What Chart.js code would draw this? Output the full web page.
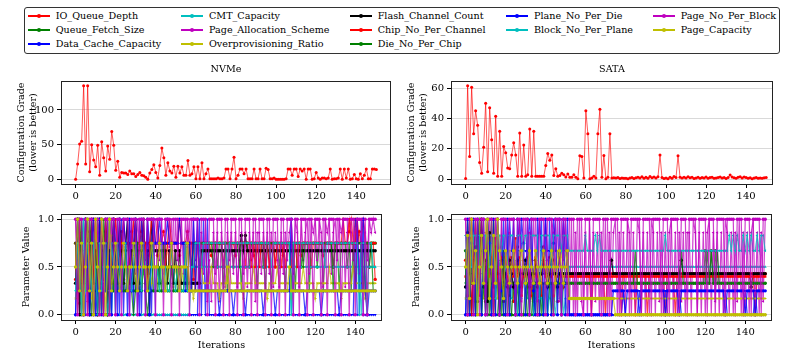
<!DOCTYPE html>
<html><head><meta charset="utf-8">
<script src="https://cdn.jsdelivr.net/npm/chart.js@4.4.1/dist/chart.umd.min.js"></script>
<style>
html,body{margin:0;padding:0;background:#fff;overflow:hidden;width:789px;height:359px;}
canvas{position:absolute;}
#legend{position:absolute;left:24px;top:7px;width:754px;height:45px;border:1px solid #333;border-radius:3px;background:#fff;}
.lh{position:absolute;height:1.5px;}
.lm{position:absolute;width:4px;height:4px;border-radius:50%;}
.lt{position:absolute;font-family:"DejaVu Serif",serif;font-size:9.6px;color:#000;white-space:nowrap;line-height:12px;}
</style></head>
<body>
<div id="legend"></div>
<canvas id="c1" width="396" height="150" style="left:0;top:58px"></canvas>
<canvas id="c2" width="393" height="150" style="left:396px;top:58px"></canvas>
<canvas id="c3" width="396" height="154" style="left:0;top:205px"></canvas>
<canvas id="c4" width="393" height="154" style="left:396px;top:205px"></canvas>
<script>
// ---------- categories ----------
const iterations = Array.from({length:151},(_,i)=>i);
const paramNames = ["IO_Queue_Depth","Queue_Fetch_Size","Data_Cache_Capacity","CMT_Capacity","Page_Allocation_Scheme","Overprovisioning_Ratio","Flash_Channel_Count","Chip_No_Per_Channel","Die_No_Per_Chip","Plane_No_Per_Die","Block_No_Per_Plane","Page_No_Per_Block","Page_Capacity"];
const xTicks = [0,20,40,60,80,100,120,140];
const nvmeGradeTicks = [0,50,100];
const sataGradeTicks = [0,20,40,60];
const paramTicks = [0,0.5,1];

// ---------- configuration grade ----------
const nvmeGrade = [0,22,51,55,135,22,135,11,50,28,
18,49,6,54,31,12,48,29,69,49,
13,26,3,10,9,9,7,12,8,8,
4,7,10,6,5,3,0,9,14,21,
10,2,20,45,31,6,24,12,9,19,
3,19,9,18,6,6,27,6,8,18,
1,18,1,24,1,8,15,1,1,1,
1,2,1,1,2,15,15,1,15,32,
1,6,15,15,8,15,1,1,1,15,
1,1,15,1,1,16,14,1,1,2,
0,0,0,0,0,1,15,15,6,15,
15,4,15,12,15,0,15,15,0,1,
10,2,0,2,2,1,2,15,0,1,
1,2,15,0,15,2,15,0,1,7,
1,0,8,1,6,15,1,1,15,15,14];

const sataGrade = [0.5,61.5,15,60.5,30,45,35.5,11,4,21,
50,5,47,26,4,41.5,2,31.5,2,21.5,
17.5,7.5,7,16,24,16,2,30.5,2,22.5,
2,3,33,2,31.5,2,2,2,2,2,
9,17,12.5,16,2.5,7,2,2.5,4,3,
1.5,3.5,1.3,1.3,3,1.3,0.4,15.4,15,0.9,
45,30,0.4,0.9,2,0.9,30,46,1.3,15.6,
0.4,1.3,30,0.9,1,0.9,1.1,0.5,0.9,0.6,
0.7,0.4,0.8,1.2,0.5,1,1.4,0.8,1.6,0.7,
1.3,0.6,1.8,1,1.5,0.8,1.7,16,1.2,0.5,
0.9,0.3,1.4,0.6,1.8,1.2,15.5,1.3,0.8,1.4,
0.9,1.6,1,1.3,0.5,0.9,1.4,0.6,1.2,0.8,
1.5,0.7,1.1,1.3,0.6,0.9,1.2,1.5,0.8,1.1,
0.5,1.2,2.8,1.5,1,0.6,1.3,1.6,0.8,1.5,
1.2,0.6,1,0.4,0.8,1.1,0.6,0.9,0.7,1,1.1];

// ---------- NVMe parameter values ----------
const nvIOQ = [.37,1,.12,.75,0,1,.5,.87,.25,1,
.75,0,.62,1,.37,.87,0,.75,.5,1,
.25,.75,.62,.87,.37,.75,.75,.5,.87,.75,
.62,.75,.75,.87,.5,.75,.75,.62,.75,.75,
.75,.62,.75,.75,.87,.75,.75,.5,.75,.75,
.75,.75,.62,.75,.75,.75,.87,.75,.75,.37,
.75,.75,.75,.5,.75,.75,.75,.75,.62,.75,
.75,.75,.75,.75,.5,.75,.75,.75,.75,.75,
.62,.75,.75,.75,.75,.5,.75,.75,.75,.62,
.75,.75,.75,.75,.75,.5,.75,.75,.75,.75,
.5,.75,.75,.75,.62,.75,.75,.75,.75,.5,
.75,.75,.75,.62,.75,.75,.75,.75,.5,.75,
.75,.75,.75,.75,.62,.75,.75,.75,.75,.5,
.75,.75,.75,.75,1,.75,.75,.87,1,.75,
1,.75,.87,.75,1,.75,.75,.5,.75,.75,.37];
const nvQFS = [.75,.25,1,0,.5,.75,1,.25,0,.75,
.5,1,.25,.75,0,.5,.25,1,.75,.25,
.5,.25,.75,.5,.25,.25,.5,.25,.75,.25,
.25,.5,.25,.25,.75,.25,.5,.25,.25,.25,
.25,.5,.25,.25,.25,.75,.25,.25,.5,.25,
.25,.25,.5,.25,.25,.75,.25,.25,.25,.75,
.75,.75,.5,.75,.75,.75,.25,.75,.75,.75,
.75,.5,.75,.75,.75,.75,.25,.75,.75,.5,
.75,.75,.75,.25,.75,.75,.75,.5,.75,.75,
.75,.25,.75,.75,.5,.75,.75,.75,.25,.75,
.75,.75,.5,.75,.75,.25,.75,.75,.75,.75,
.25,.75,.75,.5,.75,.75,.75,.25,.75,.75,
.75,.5,.75,.75,.25,.75,.75,.75,.75,.5,
.75,.75,.25,.75,.75,.75,.5,.75,.25,.75,
.75,.75,.25,.75,.75,.25,.75,.5,.75,.75,.75];
const nvDCC = [0,1,0,1,.5,0,1,0,1,0,
1,0,1,.75,0,1,0,1,0,1,
0,1,0,1,0,.75,1,0,1,0,
1,0,1,0,1,0,1,.75,0,1,
0,0,0,0,0,0,0,0,0,0,
0,0,0,0,0,0,0,0,0,0,
0,0,1,0,1,0,1,0,0,0,
0,0,0,0,0,0,0,0,0,0,
0,0,0,0,0,0,0,0,0,0,
0,0,0,0,0,0,0,0,0,0,
0,0,0,0,0,0,0,0,1,0,
0,0,0,0,0,0,0,0,0,0,
0,0,0,0,0,0,0,0,0,0,
0,0,0,0,0,0,0,0,0,0,
1,0,0,1,0,0,0,0,0,0,0];
const nvCMT = [.5,.5,0,.75,1,.25,.5,0,1,.75,
.25,.5,1,0,.75,.5,.25,1,0,.5,
0,0,0,0,0,0,0,0,0,0,
0,0,0,0,0,0,0,0,0,0,
0,0,0,0,0,0,0,0,0,0,
0,0,0,0,0,0,0,0,.5,.5,
.5,.5,.5,.5,.5,.5,.5,.5,.5,.5,
.5,.5,.5,.5,.5,.5,.5,.5,.5,.5,
.5,.5,.5,.5,.5,.5,.5,.5,.5,.5,
.5,.5,.5,.5,.5,.5,.5,.5,.5,.5,
.5,.5,.5,.5,.5,.5,.5,.5,0,.5,
.5,.5,.5,.5,.5,.5,.5,.5,.5,.5,
.5,.5,.5,.5,.5,.5,.5,.5,.5,.5,
.5,.5,.5,.5,.5,.5,.5,.5,.5,.5,
.5,.5,.5,0,.5,.5,.5,.5,.5,.5,.5];
const nvPAS = [1,.57,0,.86,.29,1,.14,.71,1,.43,
0,.86,1,.29,.57,1,0,.71,1,.43,
1,.57,1,.29,1,.71,.43,1,.57,1,
.43,1,.71,.29,1,.57,1,.43,1,.71,
1,1,.57,1,.43,1,1,.71,1,.29,
1,.57,1,1,.43,1,.71,1,.29,1,
.57,1,.29,.86,.43,1,.14,.57,.14,.86,
.43,.86,.14,.86,.57,.29,.86,.57,.86,.43,
.86,.29,.57,.86,.43,.86,.29,.86,.57,.86,
.14,.86,.86,.43,.86,.57,.86,.43,.86,.29,
.86,.57,.29,.86,.43,.86,.57,.86,1,.43,
1,.86,.29,1,.57,.86,1,.43,1,.86,
1,.57,1,.86,.29,1,.86,1,.43,.86,
1,.57,1,.86,1,.29,.86,1,.86,.57,
.86,1,.43,.86,1,.86,.57,1,.86,1,.86];
const nvOPR = [.17,.67,1,0,.5,.83,.33,1,.17,.67,
1,.33,.83,0,.67,.5,1,.17,.83,.33,
.5,.33,.5,.33,.5,.5,.33,.5,.33,.5,
.33,.5,.5,.33,.5,.33,.5,.5,.33,.5,
.5,.33,.5,.5,.33,.5,.33,.5,.5,.33,
.5,.33,.5,.5,.33,.5,.5,.33,.33,.17,
.33,.33,.33,.5,.33,.33,.33,.33,.5,.33,
.33,.33,.17,.33,.33,.33,.33,.5,.33,.33,
.33,.33,.33,.33,.17,.33,.33,.33,.33,.5,
.33,.33,.33,.33,.33,.33,.17,.33,.33,.33,
.33,.5,.33,.33,.33,.33,.33,.33,.17,.33,
.33,.33,.33,.33,.5,.33,.33,.33,.33,.33,
.17,.33,.33,.33,.33,.33,.33,.5,.33,.33,
.33,.33,.33,.17,.33,.33,.33,.33,.33,.5,
.33,.33,.33,.33,.33,.17,.33,.33,.33,.33,.33];
const nvFCC = [.33,1,0,.67,.33,1,.67,0,1,.33,
.67,0,1,.33,.67,1,0,.67,.33,1,
.67,.33,1,.67,.33,.67,1,.33,.67,.33,
1,.67,.33,.67,1,.33,.67,0,1,.67,
.67,.67,.33,.67,.67,.67,.33,.67,.67,.33,
.67,.33,.67,.33,.33,.33,.33,.33,.33,.33,
.33,.33,.33,.67,.67,.67,.67,.67,.67,.67,
.67,.67,.67,.67,.67,.67,.67,.67,.67,.67,
.67,.67,.67,.83,.67,.83,.67,.67,.67,.67,
.67,.67,.67,.67,.67,.67,.67,.67,.67,.67,
.67,.67,.67,.67,.67,.67,.67,.67,.67,.67,
.67,.67,.67,.67,.67,.67,.67,.67,.67,.67,
.67,.67,.67,.67,.67,.67,.67,.67,.67,.67,
.67,.67,.67,.67,.67,.67,.67,.67,.67,.67,
.67,.67,.67,.67,.67,.67,.67,.67,.67,.67,.67];
const nvCNC = [.75,0,1,.25,.5,1,0,.75,.25,.5,
1,.25,.75,.5,0,1,.75,.25,.5,.75,
1,.75,.5,.75,1,.75,.25,.75,.75,1,
.75,.5,.75,1,.75,.75,.25,.75,1,.75,
.75,1,.75,.75,.75,.5,.75,1,.75,.75,
.75,.75,1,.75,.75,.75,.25,.75,.75,.75,
.25,.75,.75,.75,.75,.75,.75,.75,.75,.75,
.75,.75,.75,.75,.75,.75,.75,.75,.75,.75,
.75,.75,.75,.75,.75,.75,.75,.75,.5,.75,
.5,.75,.5,.75,.75,.5,.75,.5,.75,.75,
.5,.75,.75,.5,.75,.5,.75,.75,.5,.75,
.75,.5,.75,.75,.75,.75,.75,.75,.75,.75,
.75,.75,.75,.75,.75,.75,.75,.75,.75,.75,
.75,.75,.75,.75,.75,.75,.75,1,.75,.75,
.75,1,.75,.75,.75,.75,.75,.75,.75,.75,.75];
const nvDNC = [.75,.25,.5,1,0,.75,.25,1,.5,0,
.25,.75,0,.5,1,.25,.75,0,.5,.25,
.75,.25,.5,.25,.25,.75,.25,.5,.25,0,
.25,.75,.25,.25,.5,.25,0,.25,.75,.25,
.25,.25,.5,.25,.75,.25,.25,.25,.5,.25,
.25,.5,.25,.25,.25,.5,.25,.75,.5,.75,
.75,.75,.75,.75,.75,.75,.75,.75,.75,.5,
.75,.75,.75,.75,.25,.75,.75,.75,.75,.75,
.75,.75,.5,.75,.75,.75,.75,.75,.75,.75,
.75,.75,.75,.75,.75,.25,.75,.75,.75,.75,
.75,.75,.75,.75,.75,.75,.75,.75,.25,.75,
.75,.75,.75,.75,.5,.75,.75,.75,.75,.75,
.75,.75,.75,.75,.75,.75,.75,.75,.75,.25,
.75,.75,.75,.75,.75,.75,.75,.75,.75,.75,
.25,.75,.75,.75,.25,.75,.75,.75,.75,.25,.25];
const nvPND = [0,1,.25,.75,0,1,.5,0,.75,1,
0,.25,1,0,.75,.25,1,.5,0,1,
.75,0,1,.25,1,.75,0,1,.25,.75,
1,.5,0,1,.75,.25,1,0,.75,1,
.75,.75,1,.75,.75,.75,1,.75,.75,.75,
.75,.75,1,.75,.75,.25,.75,.75,.25,1,
.25,1,.25,.25,.25,.25,.25,.25,.25,.25,
.25,.25,0,.25,.25,.25,.25,.25,.25,0,
.25,.25,.25,.25,.25,0,.25,.25,.25,.25,
.25,.25,.25,.25,0,.25,.25,.25,.25,.25,
0,.25,.25,.25,.25,.25,.25,.25,1,.25,
.25,.25,.25,.25,.25,0,.25,.25,.25,.25,
.25,.25,.25,0,.25,.25,.25,.25,.25,.25,
.25,.25,0,.25,.25,.25,.25,.25,.25,.25,
.25,1,.25,.25,1,.25,0,.25,.25,.25,.25];
const nvBNP = [.25,.75,.5,0,1,.25,.75,.5,.25,.75,
.5,0,.75,.25,.5,.75,0,.25,.75,.5,
.25,.75,.5,.25,.5,.75,.25,.5,.25,.5,
.75,.25,.5,.25,.75,.5,.25,.25,.5,.75,
.25,.5,.25,.75,.25,.5,.25,.25,.75,.5,
.25,.5,.25,.25,.25,.75,.25,.25,.5,.5,
.75,.75,.75,.5,.75,.75,.75,.75,.75,.75,
.75,.75,.75,.75,.75,.75,.5,.75,.75,.75,
.75,.75,.75,.75,.75,.75,.75,.75,.75,.75,
.75,.75,.75,.75,.75,.75,.75,.75,.5,.75,
.75,.75,.75,.75,.75,.75,.75,.75,0,.75,
.75,.75,.75,.75,.75,.75,.75,.75,.75,.75,
.75,.75,.75,.75,.75,.5,.75,.75,.75,.75,
.75,.75,.75,.75,.75,.75,.75,.75,.75,.75,
.75,.75,0,.75,.75,.75,0,.75,.75,.5,.5];
const nvPNB = [1,0,1,1,0,1,0,1,1,0,
1,1,0,1,0,1,1,0,1,1,
0,1,1,0,1,1,1,0,1,1,
1,0,1,1,1,0,1,1,1,1,
0,1,1,1,0,1,1,1,0,1,
1,1,0,1,1,1,1,0,1,1,
1,1,0,1,1,1,0,1,1,1,
0,1,1,1,0,1,1,0,1,1,
1,0,1,1,0,1,1,1,0,1,
1,0,1,1,1,0,1,1,0,1,
1,1,0,1,1,0,1,1,1,0,
1,1,0,1,1,1,0,1,1,0,
1,1,1,0,1,1,0,1,1,1,
0,1,1,0,1,1,1,0,1,1,
0,1,1,1,0,1,0,1,1,1,1];
const nvPC = [.5,1,.25,.75,0,.5,1,.25,.75,0,
1,.5,.25,1,.75,0,.5,1,.25,.5,
.75,.5,.25,.5,.75,.5,.25,.5,.5,.75,
.5,.25,.5,.75,.5,.5,.25,.5,.75,.5,
.5,.5,.75,.5,.5,.25,.5,.5,.75,.5,
.5,.5,.25,.5,.5,.5,.75,.25,.25,.25,
.25,.25,.25,.25,.25,.25,.25,.25,.25,.25,
.25,.25,.25,.25,.25,.25,.5,.25,.25,.25,
.25,.25,.25,.25,.25,.25,.25,.25,.25,.25,
.25,.25,.25,.25,.25,.25,.25,.25,.25,.25,
.25,.25,.25,.25,.25,.25,.25,.5,.25,.25,
.25,.25,.25,.25,.25,.25,.25,.25,.25,.25,
.25,.25,.25,.25,.25,.25,.25,.25,.25,.25,
.25,.25,.25,.25,.25,.25,.25,.25,.25,.25,
.25,.25,.25,.25,.25,.25,.25,.25,.25,.25,.25];

// ---------- SATA parameter values ----------
const saIOQ = [.57,0,.29,1,.43,.14,.71,.29,1,.43,
.14,.86,.43,0,.57,.29,1,.43,.71,.14,
.43,.57,.29,.43,.14,.43,.71,.29,.43,.57,
.43,.29,.43,.57,.14,.43,.43,.29,.43,.71,
.43,.29,.43,.43,.57,.43,.14,.43,.43,.29,
.43,.43,.43,.43,.43,.43,.43,.43,.43,.43,
.43,.43,.43,0,.43,.43,.43,.43,.43,.43,
0,.43,.43,.43,.43,.43,.43,.43,0,.43,
.43,.43,.43,.43,.43,0,.43,.43,.43,.43,
.43,0,.43,.43,.43,.43,.43,.43,.43,.43,
0,.43,.43,.43,.43,0,.43,.43,.43,.43,
.43,.43,.43,.43,.43,.43,.43,.43,.43,.43,
.43,.43,.43,.43,.43,.43,.43,.43,.43,.43,
.43,.43,.43,.43,.43,.43,.43,.43,.43,.43,
.43,.43,.43,.43,.43,0,.43,.43,.43,.43,.43];
const saQFS = [.67,0,1,.33,.67,0,.33,1,0,.67,
.33,0,.67,1,0,.33,.67,0,.33,0,
0,.33,0,0,.33,0,0,.33,0,0,
.33,0,0,.33,0,.33,0,0,.33,0,
.33,0,.33,.33,0,.33,.33,.33,0,.33,
.33,.33,.33,.33,.33,.33,.33,.33,.33,.33,
.33,.33,.33,.33,.33,.33,.33,.33,.33,.33,
.33,.33,.33,.33,.33,.33,.33,.33,.33,.33,
.33,.33,.33,.33,.33,.33,.33,.33,.33,.33,
.33,.33,.33,.33,.33,.33,.33,.33,.33,.33,
.33,.33,.33,.33,.33,.33,.33,.33,.33,.33,
.33,.33,.33,.33,.33,.33,.33,.33,.33,.33,
.67,.33,.33,.67,.33,.67,.33,.33,.33,.33,
.33,.33,.33,.33,.33,.33,.33,.33,.33,.33,
.33,.33,.33,.33,.33,.33,.33,.33,.33,.33,.33];
const saDCC = [0,.67,1,.67,0,.67,.67,1,.67,.67,
.67,1,.67,0,.67,.67,1,.67,.67,0,
.67,.67,1,.67,.67,0,.67,1,.67,.67,
.67,.67,1,.67,0,.67,.67,1,.67,.67,
1,.67,.67,.67,1,.67,.67,.67,.67,1,
.67,.67,0,0,0,0,0,0,0,0,
0,0,0,0,0,0,0,0,0,0,
0,0,0,0,0,0,0,0,0,.25,
0,0,0,0,0,0,0,.25,0,0,
0,0,0,0,0,0,0,0,0,0,
.25,0,0,0,0,0,0,.25,0,0,
0,0,0,0,0,0,0,0,0,0,
0,0,0,0,0,0,0,0,0,0,
.25,0,0,0,0,0,0,0,0,0,
.25,0,0,0,0,.25,0,0,0,0,0];
const saCMT = [.5,0,.83,.33,1,.5,.17,.67,0,.5,
.83,.33,.5,0,.67,.5,.17,.5,.83,.33,
.5,.33,.5,.17,.5,.33,0,.5,.17,.33,
.5,.17,.33,.5,0,.17,.5,.33,.17,0,
.33,0,.17,.5,.17,0,.33,.17,.5,0,
.17,0,.5,.5,.5,.5,.5,.5,.5,.5,
.5,.5,.5,.5,.5,.5,.5,.5,.5,.5,
.5,.5,.5,.5,.5,.5,.5,.5,.5,.5,
.5,.5,.5,.5,.5,.5,.5,.5,.5,.5,
.5,.5,.5,.5,.5,.5,.5,.5,.5,.5,
.5,.5,.5,.5,.5,.5,.5,.5,.5,.5,
.5,.5,.5,.5,.5,.5,.5,.5,.5,.5,
.5,.5,.5,.5,.5,.5,.5,.5,.5,.5,
.5,.5,.5,.5,.5,.5,.5,.5,.5,.5,
.5,.5,.5,.5,.5,.5,.5,.5,.5,.5,.5];
const saPAS = [1,.29,.86,0,.57,1,.14,.71,1,.43,
.86,0,1,.57,.29,1,.71,0,1,.43,
1,.57,.86,.29,1,.43,.71,1,.14,.57,
1,.43,.86,.29,1,.57,.14,1,.71,.43,
1,.57,.29,1,.86,.43,1,.14,1,.57,
1,.43,0,1,0,.86,0,1,.14,0,
.86,0,1,0,.86,.14,.86,0,.86,0,
1,0,.86,0,.86,1,0,.86,0,.86,
0,1,.86,0,.86,0,1,.86,0,.86,
0,.86,0,1,.86,0,.86,.14,.86,0,
.86,0,.86,1,0,.86,0,.86,.14,.86,
0,.86,.86,0,1,.86,0,.86,0,.86,
0,.86,1,0,.86,.14,.86,0,.86,0,
1,.86,0,.86,0,.86,.14,1,0,.86,
0,.86,0,.86,1,0,.86,0,.86,.14,1];
const saOPR = [.17,.5,1,.33,.83,0,.67,1,.5,.17,
1,.5,.83,.33,1,.67,.17,.5,.33,.5,
.33,.5,.67,.33,.5,.33,.5,.67,.33,.5,
.5,.33,.67,.5,.33,.5,.67,.5,.33,.5,
.67,.5,.33,.5,.67,.5,.67,.33,.67,.5,
.67,.5,.17,.17,.17,.17,.17,.17,.17,.17,
.17,.17,.17,.17,.17,.17,.17,.17,.17,.17,
.17,.17,.17,.17,.17,.17,.17,.17,.17,.17,
.17,.17,.17,.17,.17,.17,.17,.17,.17,.17,
.17,.17,.17,.17,.17,.17,.17,.17,.17,.17,
.17,.17,.17,.17,.17,.17,.17,.17,.17,.17,
.17,.17,.17,.17,.17,.17,.17,.17,.17,.17,
.17,.17,.17,.17,.17,.17,.17,.17,.17,.17,
.17,.17,.17,.17,.17,.17,.17,.17,.17,.17,
.17,.17,.17,.17,.17,.17,.17,.17,.17,.17,.17];
const saFCC = [.29,.86,.43,0,.57,.71,.14,.43,1,.29,
.57,.14,.86,.43,.29,.71,.43,0,.57,.29,
.43,.29,.57,.43,.29,.43,.57,.43,.29,.43,
.57,.43,.29,.43,.43,.57,.29,.43,.43,.57,
.43,.29,.43,.57,.43,.43,.29,.43,.43,.43,
.43,.43,.43,.43,.43,.43,.43,.43,.43,.43,
.43,.43,.43,.43,.43,.43,.43,.43,.43,.43,
.43,.43,.43,.57,.43,.43,.43,.43,.43,.43,
.43,.43,.43,.43,.43,.43,.43,.43,.43,.43,
.43,.43,.43,.43,.43,.43,.43,.43,.43,.43,
.43,.43,.43,.43,.43,.43,.43,.43,.57,.43,
.43,.43,.43,.43,.43,.43,.43,.43,.43,.43,
.43,.43,.43,.43,.43,.43,.43,.43,.43,.43,
.43,.43,.43,.43,.43,.43,.43,.43,.43,.43,
.43,.43,.43,.29,.43,.43,.43,.43,.43,.43,.43];
const saCNC = [.4,.2,.8,0,.6,1,.4,.2,.8,.6,
.2,1,.4,.6,0,.8,.4,.2,.6,.4,
.6,.4,.2,.6,.4,.8,.4,.6,.2,.4,
.4,.6,.4,.2,.4,.6,.4,.4,.2,.6,
.4,.4,.6,.4,.2,.4,.4,.6,.4,.4,
.4,.4,.4,.4,.4,.4,.4,.4,.4,.4,
.4,.4,.4,.4,.4,.4,.4,.4,.4,.4,
.4,.4,.4,.4,.4,.4,.4,.4,.4,.4,
.4,.4,.4,.4,.4,.4,.4,.4,.4,.4,
.4,.4,.4,.4,.4,.4,.4,.4,.4,.4,
.4,.4,.4,.4,.4,.4,.4,.4,.4,.4,
.4,.4,.4,.4,.4,.4,.4,.4,.4,.4,
.4,.4,.4,.4,.4,.4,.4,.4,.4,.4,
.4,.4,.4,.4,.4,.4,.4,.4,.4,.4,
.4,.4,.4,.4,.4,.4,.4,.4,.4,.4,.4];
const saDNC = [.33,1,0,.67,.33,0,1,.67,0,.33,
0,.67,0,.33,1,0,0,.33,0,.67,
0,0,.33,0,0,0,.33,0,0,0,
0,.33,0,0,.33,0,0,.33,0,.33,
.33,.33,.33,0,.33,.33,.33,.33,.33,.33,
.33,.33,.33,.33,.33,.33,.33,.33,.33,.33,
.33,.33,.33,.33,.33,.33,.33,.33,.33,.33,
.33,.33,.33,.33,.33,.33,.33,.33,.33,.33,
.33,.33,.33,.33,.33,.67,.33,.33,.33,.33,
.33,.33,.33,.33,.33,.33,.33,.33,.33,.33,
.33,.33,.33,.33,.33,.33,.33,.33,.67,.33,
.33,.33,.33,.33,.33,.33,.33,.33,.33,.33,
.33,.67,.33,.67,.33,.33,.67,.33,.33,.33,
.33,.33,.33,.33,.33,.33,.33,.33,.33,.33,
.33,.33,.33,.33,.33,.33,.33,.33,.33,.33,.33];
const saPND = [0,1,0,.75,1,0,1,.5,0,1,
0,1,.75,0,1,0,1,0,.25,1,
0,1,0,.5,1,0,1,0,1,.75,
0,1,0,1,.25,0,1,0,1,0,
1,0,1,0,.75,1,0,1,0,1,
0,1,0,0,0,0,0,0,0,0,
0,0,0,0,0,0,0,0,0,0,
0,0,0,0,.25,.25,.25,.25,.25,.25,
0,.25,.25,.25,.25,.25,.25,0,.25,.25,
.25,.25,.25,.25,.25,.25,.25,.25,.25,.25,
0,.25,.25,.25,.25,.25,.25,0,.25,.25,
.25,.25,.25,.25,.25,.25,.25,.25,.25,.25,
.25,.25,.25,.25,.25,.25,.25,.25,.25,.25,
0,.25,.25,.25,.25,.25,.25,.25,.25,.25,
0,.25,.25,.25,.25,0,.25,.25,.25,.25,.25];
const saBNP = [.83,.17,.83,.5,.83,.83,0,.83,.83,.33,
.83,.83,.5,.83,.83,.17,.83,.83,.67,.83,
.83,.5,.83,.83,.83,.33,.83,.83,.83,.67,
.83,.83,.5,.83,.83,.83,.83,.17,.83,.83,
.83,.83,.83,.5,.83,.83,.83,.83,.67,.83,
.83,.83,.67,.67,.67,.67,.67,.67,.67,.67,
.83,.67,.67,.67,.67,.83,.67,.83,.67,.67,
.67,.67,.67,.67,.67,.67,.67,.67,.67,.67,
.67,.67,.67,.67,.67,.67,.67,.67,.67,.67,
.67,.67,.67,.67,.67,.67,.67,.67,.67,.67,
.83,.67,.67,.67,.67,.67,.67,.67,.67,.67,
.67,.67,.67,.67,.67,.67,.67,.67,.67,.67,
.67,.67,.67,.67,.67,.67,.67,.67,.67,.67,
.67,.67,.83,.67,.83,.67,.83,.67,.67,.83,
.67,.83,.67,.83,.67,.67,.83,.67,.83,.83,.67];
const saPNB = [1,0,1,1,0,1,1,0,1,1,
0,1,1,1,0,1,1,0,1,1,
1,0,1,1,1,0,1,1,0,1,
1,1,0,1,1,1,0,1,1,1,
0,1,1,1,0,1,1,1,0,1,
1,0,1,1,1,0,1,1,1,0,
1,1,1,0,1,1,1,1,0,1,
1,1,0,1,1,1,1,0,1,1,
1,1,0,1,1,1,1,1,0,1,
1,1,1,0,1,1,1,1,0,1,
1,1,0,1,1,1,1,0,1,1,
1,0,1,1,1,1,0,1,1,1,
1,0,1,1,1,0,1,1,1,1,
0,1,1,1,1,0,1,1,1,0,
1,1,1,0,1,1,1,1,0,1,1];
const saPC = [.5,.83,.17,1,.33,.67,0,.5,.83,.33,
.67,1,.17,.5,.83,.33,1,.67,.5,.17,
.67,.5,.33,.5,.67,.5,.33,.5,.67,.5,
.33,.5,.67,.5,.33,.67,.5,.33,.5,.67,
.5,.33,.5,.67,.5,.33,.5,.67,.5,.33,
.5,.67,.17,.17,.17,.17,.17,.17,.17,.17,
.17,.17,.17,.17,.17,.17,.17,.17,.17,.17,
.17,.17,.17,.17,.17,0,0,0,0,0,
0,0,0,0,0,0,0,0,0,0,
0,0,0,0,0,0,0,0,0,0,
0,0,0,0,0,0,0,0,0,0,
0,0,0,0,0,0,0,0,0,0,
0,0,0,0,0,0,0,0,0,0,
0,0,0,0,0,0,0,0,0,0,
0,0,0,0,0,0,0,0,0,0,0];

const nvmeParams = [nvIOQ,nvQFS,nvDCC,nvCMT,nvPAS,nvOPR,nvFCC,nvCNC,nvDNC,nvPND,nvBNP,nvPNB,nvPC];
const sataParams = [saIOQ,saQFS,saDCC,saCMT,saPAS,saOPR,saFCC,saCNC,saDNC,saPND,saBNP,saPNB,saPC];

// ---------- styles ----------
const FONT = '"DejaVu Serif", serif';
const colors = ['#ff0000','#008000','#0000ff','#00bfbf','#bf00bf','#bfbf00','#000000','#ff0000','#008000','#0000ff','#00bfbf','#bf00bf','#bfbf00'];
const shapes = ['circle','circle','triangle','triangle','triangle','triangle','circle','rect','triangle','circle','triangle','circle','circle'];
const rots = [0,0,180,0,270,90,0,0,180,0,270,0,0];

function hexA(h,a){const r=parseInt(h.slice(1,3),16),g=parseInt(h.slice(3,5),16),b=parseInt(h.slice(5,7),16);return `rgba(${r},${g},${b},${a})`;}

// legend (HTML)
const lg = document.getElementById('legend');
const colHandle = [27.7,181,350,506,653];
const colText = [55.7,209,377.7,534,680.7];
const rowY = [16,30,44];
const colOf = [0,0,0,1,1,1,2,2,2,3,3,4,4];
const rowOf = [0,1,2,0,1,2,0,1,2,0,1,0,1];
paramNames.forEach((n,i)=>{
  const c=colOf[i], r=rowOf[i];
  const h=document.createElement('div'); h.className='lh';
  h.style.left=Math.round(colHandle[c]-25)+'px'; h.style.top=(rowY[r]-8-1)+'px'; h.style.width='22px'; h.style.background=colors[i];
  lg.appendChild(h);
  const m=document.createElement('div'); m.className='lm';
  m.style.left=(Math.round(colHandle[c]-25)+9)+'px'; m.style.top=(rowY[r]-8-2.25)+'px'; m.style.background=colors[i];
  lg.appendChild(m);
  const t=document.createElement('div'); t.className='lt'; t.textContent=n;
  t.style.left=(colText[c]-25)+'px'; t.style.top=(rowY[r]-8-6)+'px';
  lg.appendChild(t);
});

const frame = { id:'frame', afterDatasetsDraw(c){ const {ctx, chartArea:a}=c; ctx.save(); ctx.strokeStyle='#222'; ctx.lineWidth=1;
  ctx.strokeRect(Math.round(a.left)+0.5, Math.round(a.top)+0.5, Math.round(a.right-a.left)-1, Math.round(a.bottom-a.top)); ctx.restore(); } };

function mk(id, datasets, o){
  return new Chart(document.getElementById(id), {
    type:'line',
    data:{ datasets },
    options:{
      responsive:false, animation:false, devicePixelRatio:1, events:[],
      layout:{ padding:{ left:0, right:o.padR, top:o.padT, bottom:0 } },
      plugins:{
        legend:{display:false}, tooltip:{enabled:false},
        title: o.title ? { display:true, text:o.title, fullSize:false, color:'#000', font:{family:FONT,size:9.6,weight:'normal',lineHeight:1.2}, padding:{top:6.2,bottom:5.3} } : {display:false}
      },
      scales:{
        x:{ type:'linear', min:-7.3, max:o.xmax,
            afterFit:s=>{ s.height=o.xh; },
            afterBuildTicks:s=>{ s.ticks = xTicks.map(v=>({value:v})); },
            ticks:{ autoSkip:false, maxRotation:0, color:'#000', font:{family:FONT,size:10}, padding:2, callback:v=>String(v) },
            grid:{ drawOnChartArea:false, tickColor:'#000', tickLength:4 },
            border:{display:false},
            title: o.xtitle ? { display:true, text:o.xtitle, color:'#000', font:{family:FONT,size:9.6,lineHeight:1.2}, padding:{top:0,bottom:7.7} } : {display:false}
        },
        y:{ min:o.ymin, max:o.ymax,
            afterFit:s=>{ s.width=o.yw; },
            afterBuildTicks:s=>{ s.ticks = o.yt.map(v=>({value:v})); },
            ticks:{ color:'#000', font:{family:FONT,size:10}, padding:3, callback:o.fmt },
            grid:{ color:'#d9d9d9', tickColor:'#000', tickLength:4, lineWidth:1 },
            border:{display:false},
            title:{ display:true, text:o.ytitle, color:'#000', font:{family:FONT,size:9.6,lineHeight:1.2}, padding:{top:o.ypt,bottom:0} }
        }
      }
    },
    plugins:[frame]
  });
}

function gradeSet(arr){
  return [{ data:arr.map((v,i)=>({x:iterations[i],y:v})), borderColor:'rgba(255,0,0,0.65)', borderWidth:1,
    pointRadius:1.5, pointBackgroundColor:'#ff0000', pointBorderWidth:0, pointStyle:'circle', tension:0 }];
}
function paramSets(list){
  return list.map((arr,k)=>({ label:paramNames[k], order:paramNames.length-k, data:arr.map((v,i)=>({x:iterations[i],y:v})),
    borderColor:hexA(colors[k],0.75), borderWidth:1.2, pointRadius:1.7, pointBackgroundColor:colors[k],
    pointBorderWidth:0, pointStyle:shapes[k], pointRotation:rots[k], tension:0 }));
}
const f0 = v=>String(v);
const f1 = v=>Number(v).toFixed(1);

mk('c1', gradeSet(nvmeGrade), {title:'NVMe', padT:0, padR:5, xmax:157.3, xh:24, yw:61, ymin:-6.75, ymax:141.75, yt:nvmeGradeTicks, fmt:f0, ytitle:['Configuration Grade','(lower is better)'], ypt:16.2});
mk('c2', gradeSet(sataGrade), {title:'SATA', padT:0, padR:16, xmax:153.4, xh:24, yw:55, ymin:-3.1, ymax:64.6, yt:sataGradeTicks, fmt:f0, ytitle:['Configuration Grade','(lower is better)'], ypt:9.9});
mk('c3', paramSets(nvmeParams), {padT:0, padR:14, xmax:153.4, xh:39, yw:61, ymin:-0.055, ymax:1.055, yt:paramTicks, fmt:f1, ytitle:'Parameter Value', ypt:20.9, xtitle:'Iterations'});
mk('c4', paramSets(sataParams), {padT:0, padR:17, xmax:153.4, xh:39, yw:55, ymin:-0.055, ymax:1.055, yt:paramTicks, fmt:f1, ytitle:'Parameter Value', ypt:14.9, xtitle:'Iterations'});
</script>
</body></html>
